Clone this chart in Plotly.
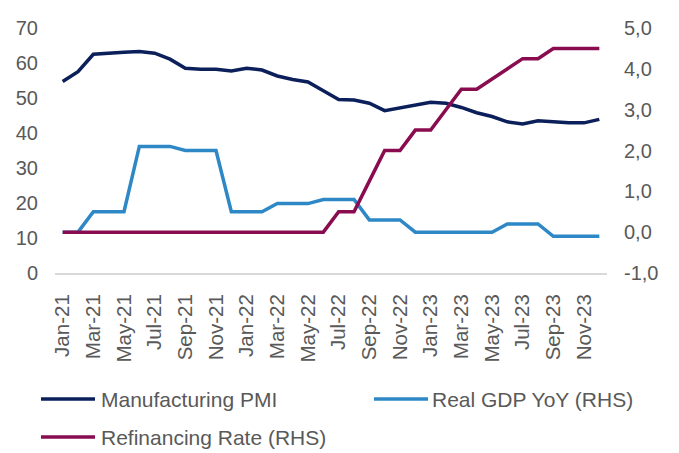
import plotly.graph_objects as go

months = ["Jan", "Feb", "Mar", "Apr", "May", "Jun", "Jul", "Aug", "Sep", "Oct", "Nov", "Dec"]
categories = [f"{m}-{y}" for y in ("21", "22", "23") for m in months]

pmi = [54.7, 57.5, 62.5, 62.9, 63.1, 63.3, 62.8, 61.1, 58.5, 58.2, 58.2, 57.7,
       58.5, 58.0, 56.3, 55.3, 54.6, 52.1, 49.6, 49.4, 48.5, 46.4, 47.2, 47.8,
       48.8, 48.5, 47.3, 45.8, 44.7, 43.2, 42.6, 43.5, 43.2, 42.9, 42.9, 43.9]

gdp = [0.0, 0.0, 0.5, 0.5, 0.5, 2.1, 2.1, 2.1, 2.0, 2.0, 2.0, 0.5,
       0.5, 0.5, 0.7, 0.7, 0.7, 0.8, 0.8, 0.8, 0.3, 0.3, 0.3, 0.0,
       0.0, 0.0, 0.0, 0.0, 0.0, 0.2, 0.2, 0.2, -0.1, -0.1, -0.1, -0.1]

refi = [0.0, 0.0, 0.0, 0.0, 0.0, 0.0, 0.0, 0.0, 0.0, 0.0, 0.0, 0.0,
        0.0, 0.0, 0.0, 0.0, 0.0, 0.0, 0.5, 0.5, 1.25, 2.0, 2.0, 2.5,
        2.5, 3.0, 3.5, 3.5, 3.75, 4.0, 4.25, 4.25, 4.5, 4.5, 4.5, 4.5]

tick_labels = categories[::2]
left_ticks = [0, 10, 20, 30, 40, 50, 60, 70]
right_ticks = [-1, 0, 1, 2, 3, 4, 5]
right_tick_text = [f"{v:.1f}".replace(".", ",") for v in right_ticks]

names = ["Manufacturing PMI", "Real GDP YoY (RHS)", "Refinancing Rate (RHS)"]
colors = ["#0b1f5b", "#2e88c6", "#8a0c50"]

FONT = "Liberation Sans, Arial, sans-serif"
GRAY = "#595959"

fig = go.Figure()
fig.add_trace(go.Scatter(x=categories, y=pmi, name=names[0], mode="lines",
                         line=dict(color=colors[0], width=3.5), yaxis="y"))
fig.add_trace(go.Scatter(x=categories, y=gdp, name=names[1], mode="lines",
                         line=dict(color=colors[1], width=3.5), yaxis="y2"))
fig.add_trace(go.Scatter(x=categories, y=refi, name=names[2], mode="lines",
                         line=dict(color=colors[2], width=3.5), yaxis="y2"))

# custom legend (paper coordinates)
L, T, W, H = 55, 28, 552, 245
def px(x):
    return (x - L) / W
def py(y):
    return (T + H - y) / H

legend_items = [(41, 95, 99, 399), (374, 428, 430, 399), (41, 95, 99, 437)]
shapes = []
annotations = []
for (x0, x1, xt, yy), nm, col in zip(legend_items, names, colors):
    shapes.append(dict(type="line", xref="paper", yref="paper",
                       x0=px(x0), x1=px(x1), y0=py(yy), y1=py(yy),
                       line=dict(color=col, width=3.5)))
    annotations.append(dict(xref="paper", yref="paper", x=px(xt), y=py(yy),
                            text=nm, showarrow=False, xanchor="left", yanchor="middle",
                            font=dict(family=FONT, size=21, color=GRAY)))

fig.update_layout(
    width=679, height=453,
    margin=dict(l=L, r=679 - L - W, t=T, b=453 - T - H),
    paper_bgcolor="white", plot_bgcolor="white",
    showlegend=False,
    font=dict(family=FONT, size=20, color=GRAY),
    xaxis=dict(type="category", range=[-0.5, 35.5], tickmode="array",
               tickvals=tick_labels, ticktext=tick_labels, tickangle=-90,
               showgrid=False, showline=True, linecolor="#d9d9d9", linewidth=2,
               ticks="", ticklabelstandoff=11, zeroline=False,
               tickfont=dict(family=FONT, size=20.5, color=GRAY)),
    yaxis=dict(range=[0, 70], tickvals=left_ticks, showgrid=False, zeroline=False,
               showline=False, ticks="", ticklabelstandoff=16,
               tickfont=dict(family=FONT, size=20, color=GRAY)),
    yaxis2=dict(range=[-1, 5], tickmode="array", tickvals=right_ticks,
                ticktext=right_tick_text, overlaying="y",
                side="right", showgrid=False, zeroline=False, showline=False, ticks="",
                ticklabelstandoff=16, tickfont=dict(family=FONT, size=20, color=GRAY)),
    shapes=shapes,
    annotations=annotations,
)

fig.write_html("out.html")
